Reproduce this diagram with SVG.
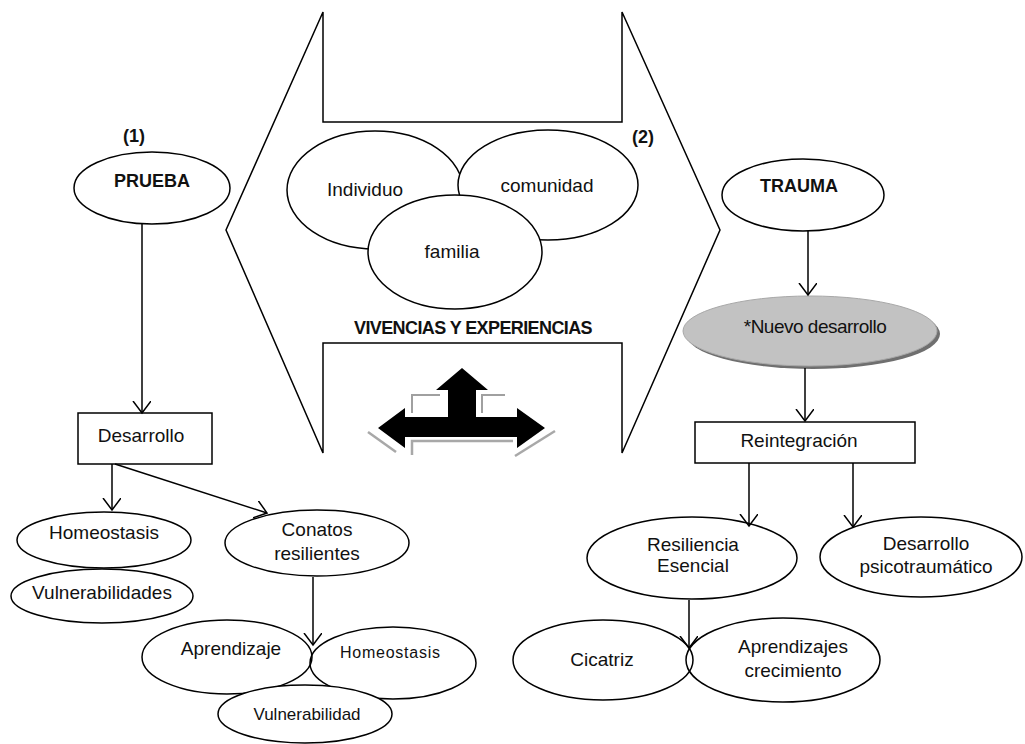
<svg xmlns="http://www.w3.org/2000/svg" width="1025" height="744" viewBox="0 0 1025 744">
<defs>
<marker id="ah" markerUnits="userSpaceOnUse" markerWidth="20" markerHeight="20" refX="12" refY="9" orient="auto">
<path d="M0,0 L12,9 L0,18" fill="none" stroke="#000" stroke-width="1.5"/>
</marker>
</defs>
<style>
.n{fill:#fff;stroke:#000;stroke-width:1.5}
.t{font-family:"Liberation Sans",Arial,sans-serif;font-size:19px;fill:#111;text-anchor:middle}
.b{font-family:"Liberation Sans",Arial,sans-serif;font-size:18px;font-weight:bold;fill:#111;text-anchor:middle}
.c{fill:none;stroke:#000;stroke-width:1.5;marker-end:url(#ah)}
.g{fill:none;stroke:#a8a8a8;stroke-width:2.5}
</style>
<rect width="1025" height="744" fill="#fff"/>

<g id="frame">
<polygon points="323,12 323,122 622,122 622,12 720,230 622,453 622,343 323,343 323,453 226,230" fill="#fff" stroke="#000" stroke-width="1.5"/>
<text class="b" x="473" y="334" letter-spacing="-0.6">VIVENCIAS Y EXPERIENCIAS</text>
</g>

<g id="individuo"><ellipse class="n" cx="375" cy="190" rx="88" ry="59"/><text class="t" x="365" y="196">Individuo</text></g>
<g id="comunidad"><ellipse class="n" cx="548" cy="185" rx="90" ry="55"/><text class="t" x="547" y="192">comunidad</text></g>
<g id="familia"><ellipse class="n" cx="455" cy="252" rx="87" ry="57"/><text class="t" x="452" y="258">familia</text></g>

<g id="cross-arrow">
<polyline class="g" points="368,432 396,452"/>
<polyline class="g" points="412,455 412,441 513,441"/>
<polyline class="g" points="555,431 515,456"/>
<polyline points="440,395 412,395 412,413" fill="none" stroke="#a0a0a0" stroke-width="2"/>
<polyline points="505,395 482,395 482,413" fill="none" stroke="#a0a0a0" stroke-width="2"/>
<polygon points="462,368 488,390 476,390 476,417 517,417 517,408 545,428 517,448 517,437 405,437 405,448 378,428 405,408 405,417 448,417 448,390 436,390" fill="#000"/>
</g>

<g id="label1"><text class="b" x="134" y="142">(1)</text></g>
<g id="label2"><text class="b" x="643" y="143">(2)</text></g>

<g id="prueba"><ellipse class="n" cx="152" cy="188" rx="78" ry="36"/><text class="b" x="152" y="187">PRUEBA</text></g>
<g id="desarrollo"><rect class="n" x="78" y="413" width="134" height="51"/><text class="t" x="141" y="442">Desarrollo</text></g>
<g id="homeostasis1"><ellipse class="n" cx="104" cy="540" rx="87" ry="28"/><text class="t" x="104" y="539">Homeostasis</text></g>
<g id="vulnerabilidades"><ellipse class="n" cx="102" cy="596" rx="91" ry="27"/><text class="t" x="102" y="599">Vulnerabilidades</text></g>
<g id="conatos"><ellipse class="n" cx="317" cy="543" rx="92" ry="33"/><text class="t" x="317" y="536">Conatos</text><text class="t" x="317" y="560">resilientes</text></g>
<g id="aprendizaje"><ellipse cx="227" cy="657" rx="85" ry="37" fill="none" stroke="#000" stroke-width="1.5"/><text class="t" x="231" y="655">Aprendizaje</text></g>
<g id="homeostasis2"><ellipse cx="393" cy="663" rx="83" ry="36" fill="none" stroke="#000" stroke-width="1.5"/><text class="t" x="390" y="658" style="font-size:16px" textLength="100">Homeostasis</text></g>
<g id="vulnerabilidad"><ellipse class="n" cx="305" cy="714" rx="87" ry="29"/><text class="t" x="307" y="720" style="font-size:17px">Vulnerabilidad</text></g>

<g id="trauma"><ellipse class="n" cx="803" cy="195" rx="81" ry="36"/><text class="b" x="799" y="192">TRAUMA</text></g>
<g id="nuevo">
<ellipse cx="813" cy="334" rx="127" ry="35" fill="#6f6f6f"/>
<ellipse cx="810" cy="331" rx="127" ry="35" fill="#c2c2c2" stroke="#a8a8a8" stroke-width="1"/>
<text class="t" x="815" y="333" letter-spacing="-0.5">*Nuevo desarrollo</text>
</g>
<g id="reintegracion"><rect class="n" x="695" y="422" width="220" height="41"/><text class="t" x="799" y="447">Reintegración</text></g>
<g id="resiliencia"><ellipse class="n" cx="692" cy="558" rx="105" ry="41"/><text class="t" x="693" y="551">Resiliencia</text><text class="t" x="693" y="572">Esencial</text></g>
<g id="psicotraumatico"><ellipse class="n" cx="921" cy="557" rx="101" ry="40"/><text class="t" x="926" y="550">Desarrollo</text><text class="t" x="926" y="573">psicotraumático</text></g>
<g id="cicatriz"><ellipse cx="603" cy="660" rx="90" ry="40" fill="none" stroke="#000" stroke-width="1.5"/><text class="t" x="602" y="666">Cicatriz</text></g>
<g id="aprendizajes"><ellipse cx="783" cy="660" rx="97" ry="42" fill="none" stroke="#000" stroke-width="1.5"/><text class="t" x="793" y="653">Aprendizajes</text><text class="t" x="793" y="677">crecimiento</text></g>

<g id="connectors">
<line class="c" x1="142" y1="224" x2="142" y2="413"/>
<line class="c" x1="112" y1="464" x2="112" y2="510"/>
<line class="c" x1="115" y1="464" x2="267" y2="513"/>
<line class="c" x1="313" y1="577" x2="313" y2="645"/>
<line class="c" x1="808" y1="231" x2="808" y2="295"/>
<line class="c" x1="805" y1="368" x2="805" y2="421"/>
<line class="c" x1="749" y1="463" x2="749" y2="526"/>
<line class="c" x1="853" y1="463" x2="853" y2="527"/>
<line class="c" x1="689" y1="600" x2="689" y2="648"/>
</g>
</svg>
